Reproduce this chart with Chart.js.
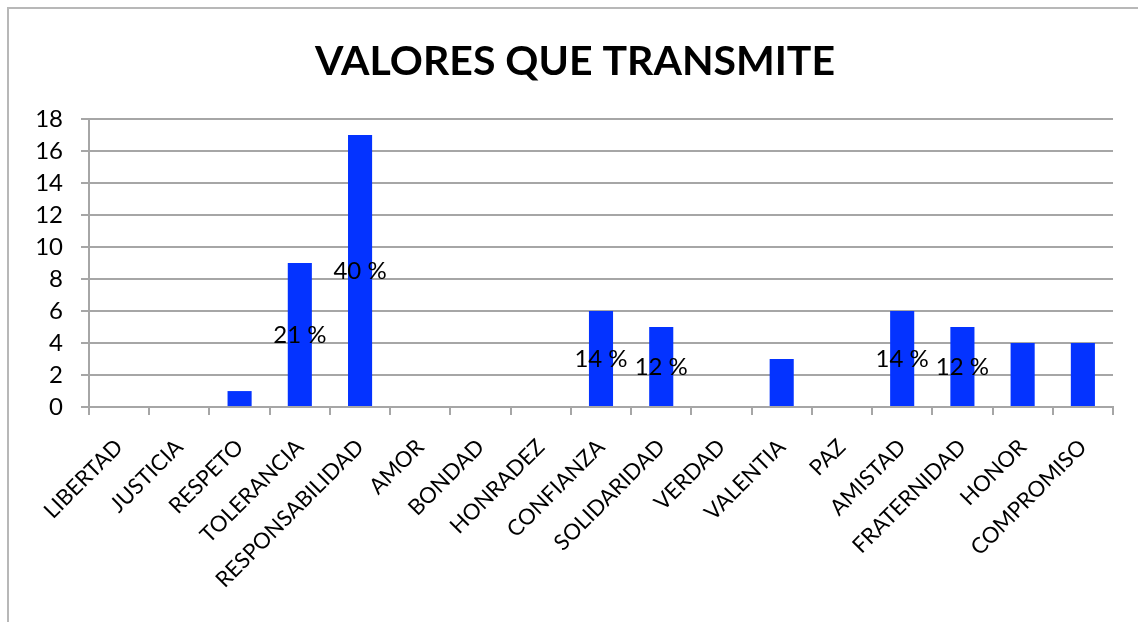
<!DOCTYPE html>
<html>
<head>
<meta charset="utf-8">
<script src="https://cdn.jsdelivr.net/npm/chart.js@4"></script>
<style>
html,body{margin:0;padding:0;background:#fff;overflow:hidden;}
#wrap{position:absolute;left:0;top:0;width:1138px;height:622px;}
#frame{position:absolute;left:7px;top:7px;width:1200px;height:700px;border-left:2px solid #b8b8b8;border-top:2px solid #b8b8b8;}
canvas{position:absolute;left:0;top:0;}
</style>
</head>
<body>
<div id="wrap"><div id="frame"></div><canvas id="c" width="1138" height="622"></canvas></div>
<script>
const categories = ['LIBERTAD','JUSTICIA','RESPETO','TOLERANCIA','RESPONSABILIDAD','AMOR','BONDAD','HONRADEZ','CONFIANZA','SOLIDARIDAD','VERDAD','VALENTIA','PAZ','AMISTAD','FRATERNIDAD','HONOR','COMPROMISO'];
const values = [0,0,1,9,17,0,0,0,6,5,0,3,0,6,5,4,4];
const percentLabels = ['','','','21 %','40 %','','','','14 %','12 %','','','','14 %','12 %','',''];
const yTicks = [0,2,4,6,8,10,12,14,16,18];
const titleText = 'VALORES QUE TRANSMITE';

const FONT = 'Lato, "Open Sans", sans-serif';

const pctPlugin = {
  id:'pct',
  afterDatasetsDraw(chart){
    const ctx = chart.ctx;
    const meta = chart.getDatasetMeta(0);
    const y = chart.scales.y;
    ctx.save();
    ctx.font = '24px ' + FONT;
    ctx.fillStyle = '#000';
    ctx.textAlign = 'center';
    ctx.textBaseline = 'middle';
    meta.data.forEach((bar,i)=>{
      if(!percentLabels[i]) return;
      ctx.fillText(percentLabels[i], bar.x, y.getPixelForValue(values[i]/2));
    });
    ctx.restore();
  }
};

const titlePlugin = {
  id:'fixedTitle',
  afterDraw(chart){
    const ctx = chart.ctx;
    ctx.save();
    ctx.font = 'bold 41px ' + FONT;
    ctx.fillStyle = '#000';
    ctx.textAlign = 'center';
    ctx.textBaseline = 'middle';
    ctx.fillText(titleText, chart.width/2 + 6, 62);
    ctx.restore();
  }
};

new Chart(document.getElementById('c'), {
  type:'bar',
  data:{labels:categories, datasets:[{data:values, backgroundColor:'#0433FF', categoryPercentage:0.4, barPercentage:1}]},
  options:{
    responsive:false, animation:false,
    layout:{padding:{left:0,right:25,top:119,bottom:10}},
    plugins:{
      legend:{display:false}, tooltip:{enabled:false}, title:{display:false}
    },
    scales:{
      x:{
        grid:{display:true, drawOnChartArea:false, drawTicks:true, tickLength:8, color:'#a6a6a6', lineWidth:2, offset:true},
        border:{color:'#a6a6a6', width:2},
        ticks:{color:'#000', font:{family:FONT, size:22}, minRotation:45, maxRotation:45, autoSkip:false, padding:19}
      },
      y:{
        min:0, max:18,
        afterBuildTicks(s){ s.ticks = yTicks.map(v=>({value:v})); },
        afterFit(s){ s.width = 89; },
        grid:{color:'#a6a6a6', lineWidth:2, tickLength:8},
        border:{color:'#a6a6a6', width:2},
        ticks:{color:'#000', font:{family:FONT, size:24}, padding:18, autoSkip:false}
      }
    }
  },
  plugins:[pctPlugin, titlePlugin]
});
</script>
</body>
</html>
